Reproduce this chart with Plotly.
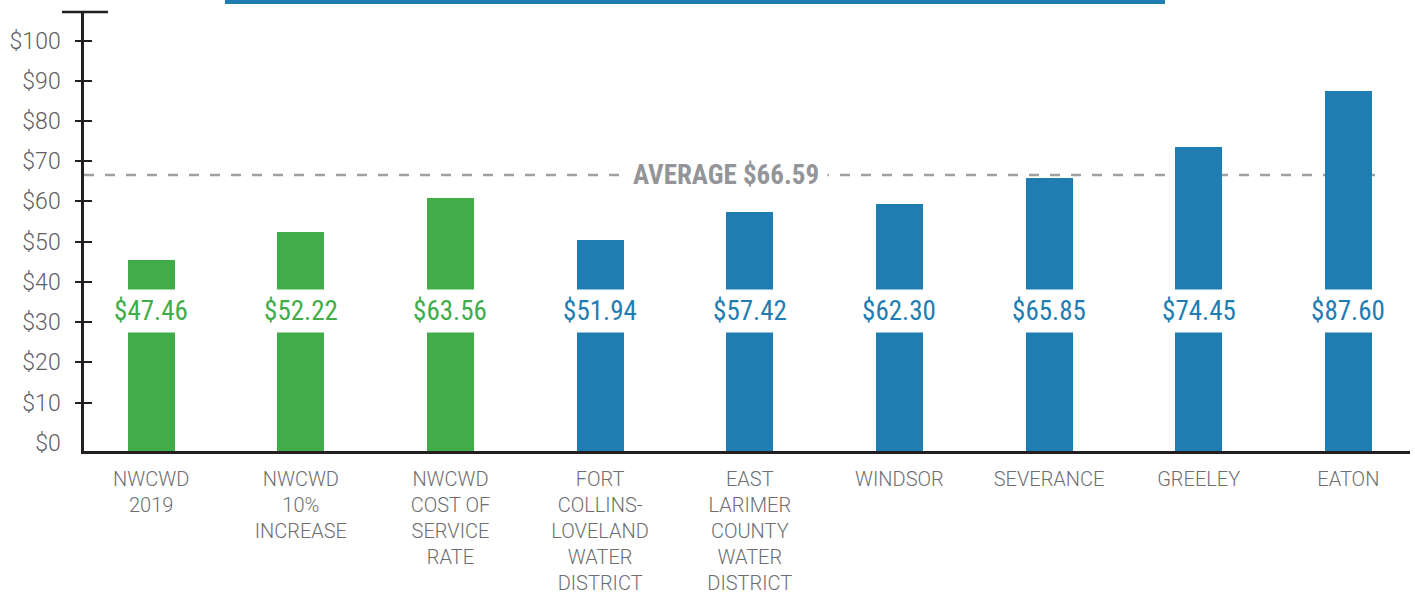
import plotly.graph_objects as go

categories = ["NWCWD<br>2019", "NWCWD<br>10%<br>INCREASE", "NWCWD<br>COST OF<br>SERVICE<br>RATE",
              "FORT<br>COLLINS-<br>LOVELAND<br>WATER<br>DISTRICT",
              "EAST<br>LARIMER<br>COUNTY<br>WATER<br>DISTRICT",
              "WINDSOR", "SEVERANCE", "GREELEY", "EATON"]
bar_values = [45.4, 52.3, 60.8, 50.3, 57.3, 59.3, 65.8, 73.5, 87.4]
bar_labels = ["$47.46", "$52.22", "$63.56", "$51.94", "$57.42", "$62.30", "$65.85", "$74.45", "$87.60"]
groups = ["nwcwd", "nwcwd", "nwcwd", "other", "other", "other", "other", "other", "other"]
average_value = 66.59
average_label = "AVERAGE $66.59"
y_ticks = [0, 10, 20, 30, 40, 50, 60, 70, 80, 90, 100]
y_tick_marks = [10, 20, 30, 40, 50, 60, 70, 80, 90, 100]

GREEN = "#41ad49"
BLUE = "#1f7db2"
FONT_C = "Roboto Condensed, Liberation Sans Narrow, Roboto, sans-serif"
FONT = "Roboto, sans-serif"
AXIS_COLOR = "#231f20"

colors = [GREEN if g == "nwcwd" else BLUE for g in groups]
y_min, y_max = -2.06, 107.1
x_min, x_max = -0.449, 8.412

fig = go.Figure()
fig.add_trace(go.Bar(
    x=categories, y=[v - y_min for v in bar_values], base=y_min,
    marker=dict(color=colors, line=dict(width=0)),
    width=0.314, showlegend=False, hoverinfo="skip",
))
for ax in ("y2", "y3"):
    fig.add_trace(go.Scatter(
        x=[categories[0]], y=[average_value], yaxis=ax, mode="none",
        showlegend=False, hoverinfo="skip",
    ))

# average dashed line
fig.add_shape(type="line", xref="x", yref="y", x0=x_min, x1=8.18,
              y0=average_value, y1=average_value,
              line=dict(color="#9d9fa2", width=2.5, dash="10px,11px"), layer="below")
fig.add_annotation(x=3.843, y=average_value, xref="x", yref="y", text="<b>" + average_label + "</b>",
                   showarrow=False, bgcolor="white", width=200, height=30,
                   font=dict(family=FONT_C, size=27, color="#939598"))

# value labels with white boxes
for c, lab, col in zip(categories, bar_labels, colors):
    fig.add_annotation(x=c, y=32.7, xref="x", yref="y", text=lab, showarrow=False,
                       bgcolor="white", width=110, height=40,
                       font=dict(family=FONT_C, size=27, color=col))

# top cap of y-axis
fig.add_shape(type="line", xref="paper", yref="paper", xsizemode="pixel", xanchor=0,
              x0=-22, x1=24, y0=1, y1=1, line=dict(color=AXIS_COLOR, width=2.5))
# cut-off title bar at the top
fig.add_shape(type="rect", xref="paper", yref="paper", x0=0.1063, x1=0.8152,
              y0=1 + 8 / 439, y1=1.05, fillcolor=BLUE, line=dict(width=0))

tick_axis = dict(range=[y_min, y_max], overlaying="y", side="left", anchor="x",
                 tickvals=y_tick_marks, showticklabels=False, showgrid=False, zeroline=False,
                 showline=False, ticklen=8, tickwidth=2, tickcolor=AXIS_COLOR, automargin=False)

fig.update_layout(
    width=1415, height=593,
    margin=dict(l=84, r=5, t=12, b=142),
    plot_bgcolor="white", paper_bgcolor="white",
    bargap=0,
    xaxis=dict(type="category", range=[x_min, x_max], showgrid=False, zeroline=False,
               showline=True, linecolor=AXIS_COLOR, linewidth=2.5, ticks="",
               ticklabelstandoff=8, automargin=False,
               tickfont=dict(family=FONT, size=20, color="#6d6e71", weight=300)),
    yaxis=dict(range=[y_min, y_max], tickvals=y_ticks, ticktext=["$" + str(t) for t in y_ticks],
               showgrid=False, zeroline=False, showline=True, linecolor=AXIS_COLOR, linewidth=2.5,
               ticks="", ticklabelstandoff=16, automargin=False,
               tickfont=dict(family=FONT, size=23, color="#5f6062", weight=300)),
    yaxis2=dict(tick_axis, ticks="outside"),
    yaxis3=dict(tick_axis, ticks="inside"),
)

fig.write_html("out.html")
